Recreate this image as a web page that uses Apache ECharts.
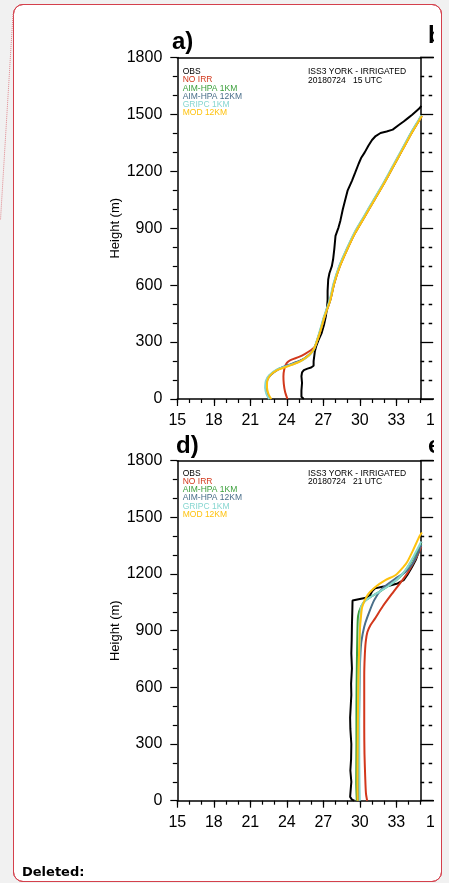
<!DOCTYPE html>
<html><head><meta charset="utf-8">
<script src="https://cdn.jsdelivr.net/npm/echarts@6/dist/echarts.min.js"></script>
<style>
html,body{margin:0;padding:0;background:#f1f1f1;width:449px;height:883px;overflow:hidden}
#box{position:absolute;left:13px;top:4px;width:427px;height:876px;background:#fff;border:1px solid #d4404c;border-radius:10px}
#chart{position:absolute;left:0;top:0;width:449px;height:883px;z-index:1}
#clip{position:absolute;left:434px;top:15px;width:7px;height:855px;background:#fff;z-index:2}
#gray{position:absolute;left:442px;top:0;width:7px;height:883px;background:#f1f1f1;z-index:2}
#border{position:absolute;left:13px;top:4px;width:427px;height:876px;border:1px solid #d4404c;border-radius:10px;z-index:3}
#conn{position:absolute;left:0;top:0;z-index:3}
</style></head>
<body>
<div id="box"></div>
<div id="chart"></div>
<div id="clip"></div>
<div id="gray"></div>
<div id="border"></div>
<svg id="conn" width="20" height="230"><line x1="13" y1="14" x2="0.5" y2="220" stroke="#e0868c" stroke-width="1" stroke-dasharray="1,1"/></svg>
<script>
// ---- data ----
const xMajorTicks = [15, 18, 21, 24, 27, 30, 33];
const yTicks = [0, 300, 600, 900, 1200, 1500, 1800];
const seriesNames = ['OBS', 'NO IRR', 'AIM-HPA 1KM', 'AIM-HPA 12KM', 'GRIPC 1KM', 'MOD 12KM'];
const panelTitles = ['a)', 'd)'];
const stationLine = 'ISS3 YORK - IRRIGATED';
const timeLines = ['20180724   15 UTC', '20180724   21 UTC'];

// Panel a) 20180724 15 UTC : [temperature (C), height (m)]
const a_obs = [[25.4,0],[25.25,4],[25.2,12],[25.2,45],[25.25,85],[25.2,120],[25.25,140],[25.4,152],[25.7,160],[26.0,166],[26.2,175],[26.2,200],[26.25,225],[26.3,250],[26.4,276],[26.6,310],[26.85,346],[27.05,390],[27.2,434],[27.3,480],[27.35,522],[27.35,570],[27.4,630],[27.5,663],[27.7,700],[27.8,735],[27.9,790],[28.0,860],[28.25,905],[28.4,940],[28.6,1000],[28.8,1050],[29.0,1100],[29.35,1150],[29.6,1190],[29.9,1240],[30.1,1270],[30.4,1300],[30.7,1335],[31.0,1365],[31.3,1386],[31.7,1402],[32.2,1410],[32.7,1420],[33.2,1444],[33.6,1463],[33.9,1478],[34.3,1498],[34.6,1515],[34.9,1532],[35.05,1545]];
const a_noirr = [[24.05,0],[23.85,40],[23.75,80],[23.72,118],[23.8,160],[24.0,190],[24.3,205],[25.0,222],[25.5,238],[26.0,258],[26.3,275],[26.7,346],[27.1,434],[27.57,522],[27.9,610],[28.34,697],[28.94,786],[29.59,873],[30.39,961],[31.19,1049],[31.99,1137],[32.74,1225],[33.49,1313],[34.24,1401],[34.89,1471],[35.1,1492]];
const a_aim1 = [[22.6,0],[22.38,25],[22.27,60],[22.32,95],[22.6,125],[23.3,157],[24.0,174],[24.7,190],[25.3,208],[25.8,230],[26.12,252],[26.27,268],[26.68,346],[27.08,434],[27.55,522],[27.87,610],[28.3,697],[28.9,786],[29.55,873],[30.35,961],[31.15,1049],[31.96,1137],[32.72,1225],[33.46,1313],[34.2,1401],[34.86,1471],[35.05,1493]];
const a_aim12 = [[22.65,0],[22.42,25],[22.3,60],[22.36,95],[22.65,125],[23.4,160],[24.1,179],[24.8,195],[25.4,212],[25.85,234],[26.15,256],[26.28,270],[26.7,346],[27.1,434],[27.57,522],[27.89,610],[28.33,697],[28.93,786],[29.58,873],[30.38,961],[31.18,1049],[31.98,1137],[32.74,1225],[33.48,1313],[34.23,1401],[34.88,1471],[35.08,1492]];
const a_gripc = [[22.55,0],[22.33,25],[22.22,60],[22.27,95],[22.55,125],[23.2,156],[23.9,171],[24.6,186],[25.3,205],[25.8,228],[26.1,250],[26.25,267],[26.65,346],[27.05,434],[27.52,522],[27.84,610],[28.28,697],[28.88,786],[29.52,873],[30.32,961],[31.12,1049],[31.93,1137],[32.68,1225],[33.43,1313],[34.18,1401],[34.83,1471],[35.05,1495]];
const a_mod = [[22.72,0],[22.5,25],[22.37,60],[22.38,90],[22.6,122],[23.2,152],[23.8,166],[24.4,180],[25.1,198],[25.6,220],[26.0,243],[26.25,267],[26.7,346],[27.1,434],[27.58,522],[27.9,610],[28.35,697],[28.95,786],[29.6,873],[30.4,961],[31.2,1049],[32.0,1137],[32.75,1225],[33.5,1313],[34.25,1401],[34.9,1471],[35.1,1492]];

// Panel d) 20180724 21 UTC
const d_obs = [[29.55,0],[29.35,6],[29.2,20],[29.25,60],[29.3,100],[29.22,160],[29.28,220],[29.3,300],[29.22,380],[29.2,440],[29.25,500],[29.3,560],[29.28,620],[29.35,700],[29.3,780],[29.33,850],[29.35,930],[29.38,1000],[29.4,1060],[29.9,1067],[30.5,1074],[30.8,1084],[31.0,1108],[31.25,1124],[31.85,1133],[32.4,1138],[33.1,1150],[33.6,1168],[33.9,1195],[34.3,1239],[34.6,1275],[34.85,1320],[35.05,1370]];
const d_noirr = [[30.6,0],[30.5,40],[30.44,127],[30.38,250],[30.36,392],[30.36,657],[30.4,760],[30.48,840],[30.62,893],[30.88,930],[31.2,960],[31.86,1027],[32.67,1098],[33.5,1168],[33.9,1204],[34.3,1248],[34.7,1295],[35.05,1345]];
const d_aim1 = [[29.75,0],[29.7,100],[29.72,300],[29.72,500],[29.75,700],[29.8,900],[29.86,980],[30.1,1027],[30.5,1062],[31.6,1106],[32.67,1151],[33.3,1185],[33.77,1221],[34.4,1285],[35.05,1362]];
const d_aim12 = [[29.9,0],[29.88,100],[29.9,300],[29.95,500],[30.0,700],[30.05,780],[30.12,840],[30.36,921],[30.63,974],[31.18,1062],[31.86,1124],[32.95,1177],[33.77,1212],[34.3,1252],[34.7,1300],[35.05,1355]];
const d_gripc = [[30.0,0],[29.97,100],[29.95,300],[29.95,500],[29.97,700],[30.0,900],[30.05,985],[30.12,1030],[30.5,1062],[31.6,1106],[32.67,1151],[33.3,1187],[33.77,1223],[34.4,1292],[35.05,1372]];
const d_mod = [[29.82,0],[29.8,100],[29.82,300],[29.85,500],[29.9,700],[30.0,900],[30.1,980],[30.2,1027],[30.63,1089],[31.3,1133],[32.1,1168],[32.95,1195],[33.6,1239],[33.9,1265],[34.4,1330],[34.9,1400],[35.1,1420]];

const panelData = [
  [a_obs, a_noirr, a_aim1, a_aim12, a_gripc, a_mod],
  [d_obs, d_noirr, d_aim1, d_aim12, d_gripc, d_mod]
];

// ---- styles / layout ----
const colors = ['#000000', '#d2381c', '#3ca03c', '#4a6f8a', '#86d6d0', '#fec20e'];
const FONT = '"Liberation Sans", Arial, Helvetica, sans-serif';
const layout = [
  { left: 177.3, top: 57.5, width: 243.4, height: 341.5 },
  { left: 177.3, top: 460.7, width: 243.4, height: 340 }
];
const plain = v => String(v);

const chart = echarts.init(document.getElementById('chart'), null, { renderer: 'canvas' });
const grid = [], xAxis = [], yAxis = [], series = [], graphic = [];
const axLine = { show: true, lineStyle: { color: '#000', width: 1.5 } };

layout.forEach((g, i) => {
  grid.push({ left: g.left, top: g.top, width: g.width, height: g.height, outerBoundsMode: 'none', containLabel: false });
  // x minor ticks (every 1)
  xAxis.push({ gridIndex: i, type: 'value', min: 15, max: 35, interval: 1, position: 'bottom',
    axisLine: axLine, axisTick: { show: true, inside: false, length: 4, lineStyle: { color: '#000', width: 1.2 } },
    axisLabel: { show: false }, splitLine: { show: false } });
  // x major ticks + labels
  xAxis.push({ gridIndex: i, type: 'value', min: 15, max: 35, interval: 3, position: 'bottom',
    axisLine: { show: false },
    axisTick: { show: true, inside: false, length: 7, customValues: xMajorTicks, lineStyle: { color: '#000', width: 1.2 } },
    axisLabel: { show: true, customValues: xMajorTicks, formatter: plain, margin: 14, fontSize: 16, color: '#000', fontFamily: FONT },
    splitLine: { show: false } });
  // top frame
  xAxis.push({ gridIndex: i, type: 'value', min: 15, max: 35, position: 'top',
    axisLine: axLine, axisTick: { show: false }, axisLabel: { show: false }, splitLine: { show: false } });
  // left y axis
  yAxis.push({ gridIndex: i, type: 'value', min: 0, max: 1800, interval: 300, position: 'left',
    name: 'Height (m)', nameLocation: 'middle', nameGap: 55, nameMoveOverlap: false,
    nameTextStyle: { fontSize: 13, color: '#000', fontFamily: FONT },
    axisLine: axLine,
    axisTick: { show: true, inside: false, length: 7, customValues: yTicks, lineStyle: { color: '#000', width: 1.2 } },
    minorTick: { show: true, splitNumber: 3, length: 4.5, lineStyle: { color: '#000', width: 1.2 } },
    axisLabel: { show: true, customValues: yTicks, formatter: plain, margin: 15, fontSize: 16, color: '#000', fontFamily: FONT },
    splitLine: { show: false }, minorSplitLine: { show: false } });
  // right frame with outward ticks
  yAxis.push({ gridIndex: i, type: 'value', min: 0, max: 1800, interval: 300, position: 'right',
    axisLine: axLine,
    axisTick: { show: true, inside: false, length: 12.5, lineStyle: { color: '#000', width: 1.3 } },
    minorTick: { show: true, splitNumber: 3, length: 12.5, lineStyle: { color: '#000', width: 1.3, type: [3.5, 4.5] } },
    axisLabel: { show: false }, splitLine: { show: false }, minorSplitLine: { show: false } });

  panelData[i].forEach((d, k) => {
    series.push({
      type: 'line', name: seriesNames[k], xAxisIndex: 3 * i, yAxisIndex: 2 * i,
      data: d, showSymbol: false, symbol: 'none', clip: true,
      smooth: k === 0 ? false : 0.25,
      lineStyle: { color: colors[k], width: 2 }, itemStyle: { color: colors[k] },
      z: 2 + k, animation: false
    });
  });

  // legend texts inside plot
  const legTop = g.top + (i === 0 ? 14.2 : 12.6);
  seriesNames.forEach((n, k) => {
    graphic.push({ type: 'text', z: 100, style: { text: n, x: 182.7, y: legTop + k * 8.25, fill: colors[k],
      fontSize: 8.5, fontFamily: FONT, verticalAlign: 'middle', align: 'left' } });
  });
  graphic.push({ type: 'text', z: 100, style: { text: stationLine, x: 308, y: legTop, fill: '#000', fontSize: 8.5, fontFamily: FONT, verticalAlign: 'middle' } });
  graphic.push({ type: 'text', z: 100, style: { text: timeLines[i], x: 308, y: legTop + 8.8, fill: '#000', fontSize: 8.5, fontFamily: FONT, verticalAlign: 'middle' } });

  // panel title
  graphic.push({ type: 'text', z: 100, style: { text: panelTitles[i], x: i === 0 ? 172 : 176, y: i === 0 ? 42 : 446.5, fill: '#000', fontSize: 24, fontWeight: 'bold', fontFamily: FONT, verticalAlign: 'middle' } });
  // neighbouring (cut off) panel title and axis
  graphic.push({ type: 'text', z: 100, style: { text: i === 0 ? 'b)' : 'e)', x: 428, y: i === 0 ? 36 : 446.5, fill: '#000', fontSize: 24, fontWeight: 'bold', fontFamily: FONT, verticalAlign: 'middle' } });
  graphic.push({ type: 'text', z: 100, style: { text: '15', x: 435, y: g.top + g.height + 14, fill: '#000', fontSize: 16, fontFamily: FONT, align: 'center', verticalAlign: 'top' } });
  graphic.push({ type: 'line', z: 100, shape: { x1: 420, y1: g.top, x2: 436, y2: g.top }, style: { stroke: '#000', lineWidth: 1.5 } });
  graphic.push({ type: 'line', z: 100, shape: { x1: 420, y1: g.top + g.height, x2: 436, y2: g.top + g.height }, style: { stroke: '#000', lineWidth: 1.5 } });
});

graphic.push({ type: 'text', z: 100, style: { text: 'Deleted:', x: 22, y: 873, fill: '#000', fontSize: 13, fontWeight: 'bold', fontFamily: '"DejaVu Sans", Verdana, sans-serif', verticalAlign: 'middle' } });

chart.setOption({
  animation: false,
  backgroundColor: 'transparent',
  grid, xAxis, yAxis, series, graphic,
  tooltip: { show: false }
});
</script>
</body></html>
